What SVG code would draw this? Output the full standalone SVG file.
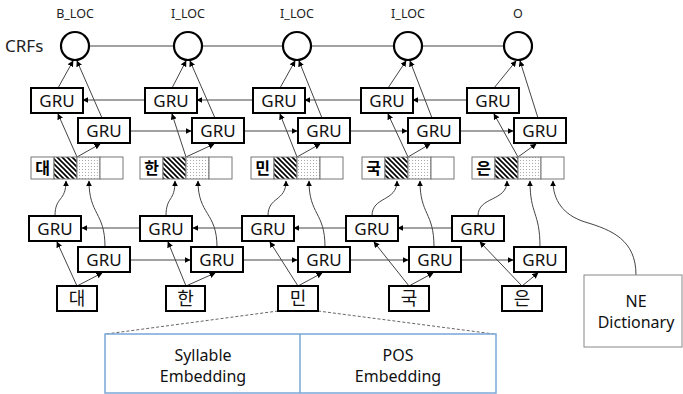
<svg xmlns="http://www.w3.org/2000/svg" width="683" height="394" viewBox="0 0 683 394">
  <style>
    .lbl { font-family: "Noto Sans", "Noto Sans CJK KR", sans-serif; fill: #222; }
    .tag { font-size: 12.5px; text-anchor: middle; }
    .gru rect { fill: #fff; stroke: #000; stroke-width: 2; }
    .gru text { font-family: "Noto Sans", sans-serif; font-size: 17px; text-anchor: middle; fill: #111; }
    .crf { fill: #fff; stroke: #000; stroke-width: 2.2; }
    .cell { stroke: #777; stroke-width: 1; }
    .inp rect { fill: #fff; stroke: #000; stroke-width: 2; }
    .inp text { font-family: "Noto Sans CJK KR", sans-serif; font-size: 18px; text-anchor: middle; fill: #111; }
    .sch { font-family: "Noto Sans CJK KR", sans-serif; font-size: 16px; font-weight: bold; text-anchor: middle; fill: #000; }
    .edge { fill: none; stroke: #444; stroke-width: 1; }
    .arr { marker-end: url(#ah); }
    .dash { fill: none; stroke: #666; stroke-width: 1; stroke-dasharray: 3 2; }
    .emb { fill: #fff; stroke: #7aa7d6; stroke-width: 1.5; }
    .big { font-family: "Noto Sans", sans-serif; font-size: 16px; text-anchor: middle; fill: #111; }
  </style>
  <defs>
    <marker id="ah" viewBox="0 0 10 10" refX="9" refY="5" markerWidth="6" markerHeight="6" markerUnits="userSpaceOnUse" orient="auto">
      <path d="M0,0 L10,5 L0,10 Z" fill="#000"/>
    </marker>
    <pattern id="hatch" width="5" height="5" patternUnits="userSpaceOnUse">
      <rect width="5" height="5" fill="#fff"/>
      <path d="M-1,-1 L6,6 M4,-1 L6,1 M-1,4 L1,6" stroke="#000" stroke-width="1.6"/>
    </pattern>
    <pattern id="dots" width="3" height="3" patternUnits="userSpaceOnUse">
      <rect width="3" height="3" fill="#fff"/>
      <rect x="1" y="1" width="1" height="1" fill="#aaa"/>
    </pattern>
  </defs>

  <!-- labels above the CRF layer -->
  <g id="tags" class="lbl">
    <text class="tag" x="75" y="18">B_LOC</text>
    <text class="tag" x="188" y="18">I_LOC</text>
    <text class="tag" x="297" y="18">I_LOC</text>
    <text class="tag" x="408" y="18">I_LOC</text>
    <text class="tag" x="518" y="18">O</text>
    <text x="5" y="52" font-size="17px">CRFs</text>
  </g>

  <!-- connectors -->
  <g id="edges">
    <!-- CRF chain -->
    <path class="edge" d="M89,46 H504"/>

    <!-- upper GRU layer to CRF nodes -->
    <path class="edge arr" d="M58,88 L73,61"/>
    <path class="edge arr" d="M102,118 L77,61"/>
    <path class="edge arr" d="M172,88 L186,61"/>
    <path class="edge arr" d="M215,118 L190,61"/>
    <path class="edge arr" d="M280,88 L295,61"/>
    <path class="edge arr" d="M322,118 L299,61"/>
    <path class="edge arr" d="M388,88 L406,61"/>
    <path class="edge arr" d="M432,118 L410,61"/>
    <path class="edge arr" d="M494,88 L516,61"/>
    <path class="edge arr" d="M538,118 L520,61"/>

    <!-- upper backward GRU chain -->
    <path class="edge arr" d="M145,100 H83"/>
    <path class="edge arr" d="M253,100 H197"/>
    <path class="edge arr" d="M361,100 H305"/>
    <path class="edge arr" d="M467,100 H413"/>
    <!-- upper forward GRU chain -->
    <path class="edge arr" d="M130,131 H191"/>
    <path class="edge arr" d="M244,131 H297"/>
    <path class="edge arr" d="M350,131 H407"/>
    <path class="edge arr" d="M460,131 H513"/>

    <!-- feature vectors to upper GRU layer -->
    <path class="edge arr" d="M77,157 L58,114"/>
    <path class="edge arr" d="M77,157 L100,144"/>
    <path class="edge arr" d="M186,157 L172,114"/>
    <path class="edge arr" d="M186,157 L214,144"/>
    <path class="edge arr" d="M297,157 L280,114"/>
    <path class="edge arr" d="M297,157 L320,144"/>
    <path class="edge arr" d="M408,157 L388,114"/>
    <path class="edge arr" d="M408,157 L430,144"/>
    <path class="edge arr" d="M518,157 L494,114"/>
    <path class="edge arr" d="M518,157 L536,144"/>

    <!-- lower GRU layer to feature vectors -->
    <path class="edge arr" d="M55,216 C55,196 66,202 66,181"/>
    <path class="edge arr" d="M105,247 C105,212 89,215 89,181"/>
    <path class="edge arr" d="M166,216 C166,196 175,202 175,181"/>
    <path class="edge arr" d="M217,247 C217,212 198,215 198,181"/>
    <path class="edge arr" d="M268,216 C268,196 286,202 286,181"/>
    <path class="edge arr" d="M325,247 C325,212 309,215 309,181"/>
    <path class="edge arr" d="M372,216 C372,196 397,202 397,181"/>
    <path class="edge arr" d="M434,247 C434,212 420,215 420,181"/>
    <path class="edge arr" d="M478,216 C478,196 507,202 507,181"/>
    <path class="edge arr" d="M540,247 C540,212 530,215 530,181"/>

    <!-- dictionary feature -->
    <path class="edge arr" d="M636,275 C636,240 612,230 585,222 C563,215 553,200 553,181"/>

    <!-- lower backward GRU chain -->
    <path class="edge arr" d="M140,228 H82"/>
    <path class="edge arr" d="M242,228 H193"/>
    <path class="edge arr" d="M346,228 H294"/>
    <path class="edge arr" d="M452,228 H398"/>
    <!-- lower forward GRU chain -->
    <path class="edge arr" d="M130,260 H190"/>
    <path class="edge arr" d="M243,260 H297"/>
    <path class="edge arr" d="M351,260 H408"/>
    <path class="edge arr" d="M461,260 H513"/>

    <!-- syllables to lower GRU layer -->
    <path class="edge arr" d="M77,286 L57,242"/>
    <path class="edge arr" d="M77,286 L102,273"/>
    <path class="edge arr" d="M186,286 L168,242"/>
    <path class="edge arr" d="M186,286 L215,273"/>
    <path class="edge arr" d="M298,286 L270,242"/>
    <path class="edge arr" d="M298,286 L322,273"/>
    <path class="edge arr" d="M409,286 L374,242"/>
    <path class="edge arr" d="M409,286 L433,273"/>
    <path class="edge arr" d="M522,286 L480,242"/>
    <path class="edge arr" d="M522,286 L538,273"/>

    <!-- expansion of the 민 input -->
    <path class="dash" d="M278,311 L106,334"/>
    <path class="dash" d="M318,311 L494,334"/>
  </g>

  <!-- CRF nodes -->
  <g id="crf1"><circle class="crf" cx="75" cy="46" r="14"/></g>
  <g id="crf2"><circle class="crf" cx="188" cy="46" r="14"/></g>
  <g id="crf3"><circle class="crf" cx="297" cy="46" r="14"/></g>
  <g id="crf4"><circle class="crf" cx="408" cy="46" r="14"/></g>
  <g id="crf5"><circle class="crf" cx="518" cy="46" r="14"/></g>

  <!-- upper backward GRUs -->
  <g id="ub1" class="gru"><rect x="31" y="88" width="52" height="25"/><text x="57" y="107">GRU</text></g>
  <g id="ub2" class="gru"><rect x="145" y="88" width="52" height="25"/><text x="171" y="107">GRU</text></g>
  <g id="ub3" class="gru"><rect x="253" y="88" width="52" height="25"/><text x="279" y="107">GRU</text></g>
  <g id="ub4" class="gru"><rect x="361" y="88" width="52" height="25"/><text x="387" y="107">GRU</text></g>
  <g id="ub5" class="gru"><rect x="467" y="88" width="52" height="25"/><text x="493" y="107">GRU</text></g>

  <!-- upper forward GRUs -->
  <g id="uf1" class="gru"><rect x="78" y="118" width="52" height="25"/><text x="104" y="137">GRU</text></g>
  <g id="uf2" class="gru"><rect x="192" y="118" width="52" height="25"/><text x="218" y="137">GRU</text></g>
  <g id="uf3" class="gru"><rect x="298" y="118" width="52" height="25"/><text x="324" y="137">GRU</text></g>
  <g id="uf4" class="gru"><rect x="408" y="118" width="52" height="25"/><text x="434" y="137">GRU</text></g>
  <g id="uf5" class="gru"><rect x="514" y="118" width="52" height="25"/><text x="540" y="137">GRU</text></g>

  <!-- concatenated feature vectors -->
  <g id="vec1">
    <rect class="cell" x="31" y="157" width="23" height="22" fill="#fff"/>
    <rect class="cell" x="54" y="157" width="23" height="22" fill="url(#hatch)"/>
    <rect class="cell" x="77" y="157" width="23" height="22" fill="url(#dots)"/>
    <rect class="cell" x="100" y="157" width="23" height="22" fill="#fff"/>
    <text class="sch" x="42.5" y="174">대</text>
  </g>
  <g id="vec2">
    <rect class="cell" x="140" y="157" width="23" height="22" fill="#fff"/>
    <rect class="cell" x="163" y="157" width="23" height="22" fill="url(#hatch)"/>
    <rect class="cell" x="186" y="157" width="23" height="22" fill="url(#dots)"/>
    <rect class="cell" x="209" y="157" width="23" height="22" fill="#fff"/>
    <text class="sch" x="151.5" y="174">한</text>
  </g>
  <g id="vec3">
    <rect class="cell" x="251" y="157" width="23" height="22" fill="#fff"/>
    <rect class="cell" x="274" y="157" width="23" height="22" fill="url(#hatch)"/>
    <rect class="cell" x="297" y="157" width="23" height="22" fill="url(#dots)"/>
    <rect class="cell" x="320" y="157" width="23" height="22" fill="#fff"/>
    <text class="sch" x="262.5" y="174">민</text>
  </g>
  <g id="vec4">
    <rect class="cell" x="362" y="157" width="23" height="22" fill="#fff"/>
    <rect class="cell" x="385" y="157" width="23" height="22" fill="url(#hatch)"/>
    <rect class="cell" x="408" y="157" width="23" height="22" fill="url(#dots)"/>
    <rect class="cell" x="431" y="157" width="23" height="22" fill="#fff"/>
    <text class="sch" x="373.5" y="174">국</text>
  </g>
  <g id="vec5">
    <rect class="cell" x="472" y="157" width="23" height="22" fill="#fff"/>
    <rect class="cell" x="495" y="157" width="23" height="22" fill="url(#hatch)"/>
    <rect class="cell" x="518" y="157" width="23" height="22" fill="url(#dots)"/>
    <rect class="cell" x="541" y="157" width="23" height="22" fill="#fff"/>
    <text class="sch" x="483.5" y="174">은</text>
  </g>

  <!-- lower backward GRUs -->
  <g id="lb1" class="gru"><rect x="29" y="216" width="52" height="25"/><text x="55" y="235">GRU</text></g>
  <g id="lb2" class="gru"><rect x="140" y="216" width="52" height="25"/><text x="166" y="235">GRU</text></g>
  <g id="lb3" class="gru"><rect x="242" y="216" width="52" height="25"/><text x="268" y="235">GRU</text></g>
  <g id="lb4" class="gru"><rect x="346" y="216" width="52" height="25"/><text x="372" y="235">GRU</text></g>
  <g id="lb5" class="gru"><rect x="452" y="216" width="52" height="25"/><text x="478" y="235">GRU</text></g>

  <!-- lower forward GRUs -->
  <g id="lf1" class="gru"><rect x="78" y="247" width="52" height="25"/><text x="104" y="266">GRU</text></g>
  <g id="lf2" class="gru"><rect x="191" y="247" width="52" height="25"/><text x="217" y="266">GRU</text></g>
  <g id="lf3" class="gru"><rect x="298" y="247" width="52" height="25"/><text x="324" y="266">GRU</text></g>
  <g id="lf4" class="gru"><rect x="409" y="247" width="52" height="25"/><text x="435" y="266">GRU</text></g>
  <g id="lf5" class="gru"><rect x="514" y="247" width="52" height="25"/><text x="540" y="266">GRU</text></g>

  <!-- input syllables -->
  <g id="in1" class="inp"><rect x="57" y="286" width="40" height="25"/><text x="77" y="305">대</text></g>
  <g id="in2" class="inp"><rect x="166" y="286" width="39" height="25"/><text x="185.5" y="305">한</text></g>
  <g id="in3" class="inp"><rect x="278" y="286" width="40" height="25"/><text x="298" y="305">민</text></g>
  <g id="in4" class="inp"><rect x="389" y="286" width="40" height="25"/><text x="409" y="305">국</text></g>
  <g id="in5" class="inp"><rect x="502" y="286" width="40" height="25"/><text x="522" y="305">은</text></g>

  <!-- NE dictionary -->
  <g id="dict">
    <rect x="584" y="275" width="98" height="72" fill="#fff" stroke="#888" stroke-width="1"/>
    <text class="big" x="636" y="307">NE</text>
    <text class="big" x="636" y="328">Dictionary</text>
  </g>

  <!-- embedding of one input -->
  <g id="embedding">
    <rect class="emb" x="105" y="334" width="391" height="59"/>
    <path d="M300,334 V393" stroke="#7aa7d6" stroke-width="1.5"/>
    <text class="big" x="203" y="361">Syllable</text>
    <text class="big" x="203" y="382">Embedding</text>
    <text class="big" x="398" y="361">POS</text>
    <text class="big" x="398" y="382">Embedding</text>
  </g>
</svg>
